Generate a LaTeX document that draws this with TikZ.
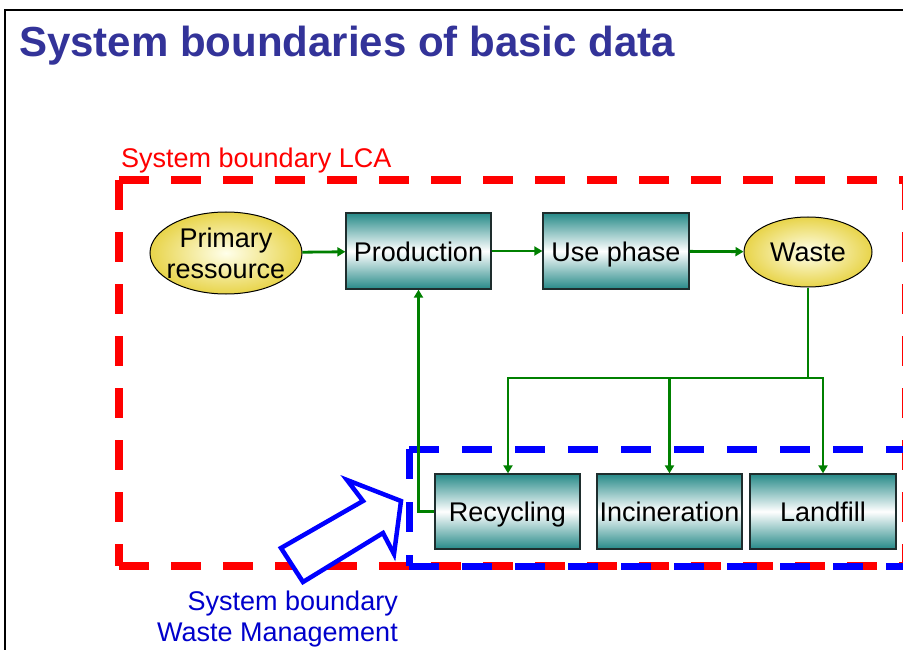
\documentclass[tikz,border=0pt]{standalone}
\usepackage{fontspec}
\setmainfont{Liberation Sans}
\usetikzlibrary{shapes.geometric,arrows.meta}
\definecolor{titleblue}{RGB}{51,51,153}
\definecolor{tealc}{RGB}{38,138,136}
\definecolor{yellc}{RGB}{232,212,74}
\definecolor{boxline}{RGB}{30,45,45}
\definecolor{arrgreen}{RGB}{0,128,0}
\definecolor{lblblue}{RGB}{0,0,204}
\begin{document}
\begin{tikzpicture}[x=1pt,y=-1pt,
  proc/.style={draw=boxline, line width=1.3pt, top color=tealc, bottom color=tealc, middle color=white,
    minimum width=145pt, minimum height=76pt, inner sep=0pt, font=\fontsize{27}{31}\selectfont,
    text height=20pt, text depth=0pt},
  elli/.style={ellipse, draw=black, line width=1pt, inner color=yellow!8!white, outer color=yellc,
    inner xsep=-6pt, inner ysep=0pt, font=\fontsize{27}{31}\selectfont, align=center},
  flow/.style={draw=arrgreen, line width=2.8pt, -{Triangle[width=9pt,length=8pt]}},
  flowline/.style={draw=arrgreen, line width=2.8pt},
  redb/.style={draw=red, line width=8pt, dash pattern=on 30pt off 22pt},
  blueb/.style={draw=blue, line width=7pt, dash pattern=on 30pt off 23pt},
  lbl/.style={inner sep=0pt, font=\fontsize{27}{31}\selectfont}
]
\useasboundingbox (0,0) rectangle (903,650);
\clip (0,0) rectangle (903,650);
\fill[white] (0,0) rectangle (903,650);
% slide frame
\draw[line width=2pt] (5,652) -- (5,10) -- (905,10);
% title
\node[anchor=base west, inner sep=0pt, text=titleblue, font=\fontsize{42}{46}\bfseries] (title) at (19,57) {System boundaries of basic data};
% boundaries
\draw[redb] (119,180) -- (910,180);
\draw[redb] (119,180) -- (119,566);
\draw[redb] (119,566) -- (910,566);
\draw[redb] (906,180) -- (906,566);
\draw[blueb] (409,449) -- (910,449);
\draw[blueb] (409,449) -- (409,566);
\draw[blueb] (409,566) -- (910,566);
\draw[blueb] (906,449) -- (906,566);
\node[lbl, anchor=base west, text=red] (lca) at (121,168) {System boundary LCA};
\node[lbl, anchor=base east, text=lblblue] (wm1) at (398,610) {System boundary};
\node[lbl, anchor=base east, text=lblblue] (wm2) at (398,641) {Waste Management};
% hollow arrow
\draw[blue, line width=4.5pt, fill=white, line join=miter] (281,548) -- (363,501) -- (347,480) -- (401,501) -- (394,554) -- (383,533) -- (303,582) -- cycle;
% nodes
\node[elli, minimum width=152pt, minimum height=82pt] (prim) at (226,253) {Primary\\ressource};
\node[proc] (prod) at (418.5,251) {Production};
\node[proc, minimum width=146pt] (use) at (616,251) {Use phase};
\node[elli, minimum width=128pt, minimum height=70pt] (waste) at (808,252) {Waste};
\node[proc, minimum height=75pt] (rec) at (507.5,511.5) {Recycling};
\node[proc, minimum height=75pt] (inc) at (669.5,511.5) {Incineration};
\node[proc, minimum width=146pt, minimum height=75pt] (land) at (823,511.5) {Landfill};
% connectors
\coordinate (j) at (808,378);
\coordinate (jl) at (508,378);
\coordinate (jm) at (669.5,378);
\coordinate (jr) at (823,378);
\draw[flow] (prim) -- (prod);
\draw[flow] (prod) -- (use);
\draw[flow] (use) -- (waste);
\draw[flowline] (waste.south) -- (j);
\draw[flowline, line cap=rect] (jl) -- (jr);
\draw[flow] (jl) -- (rec.north -| jl);
\draw[flow] (jm) -- (inc.north);
\draw[flow] (jr) -- (land.north);
\draw[flow] (rec.west) -- (rec.west -| prod.south) -- (prod.south);
\end{tikzpicture}
\end{document}
